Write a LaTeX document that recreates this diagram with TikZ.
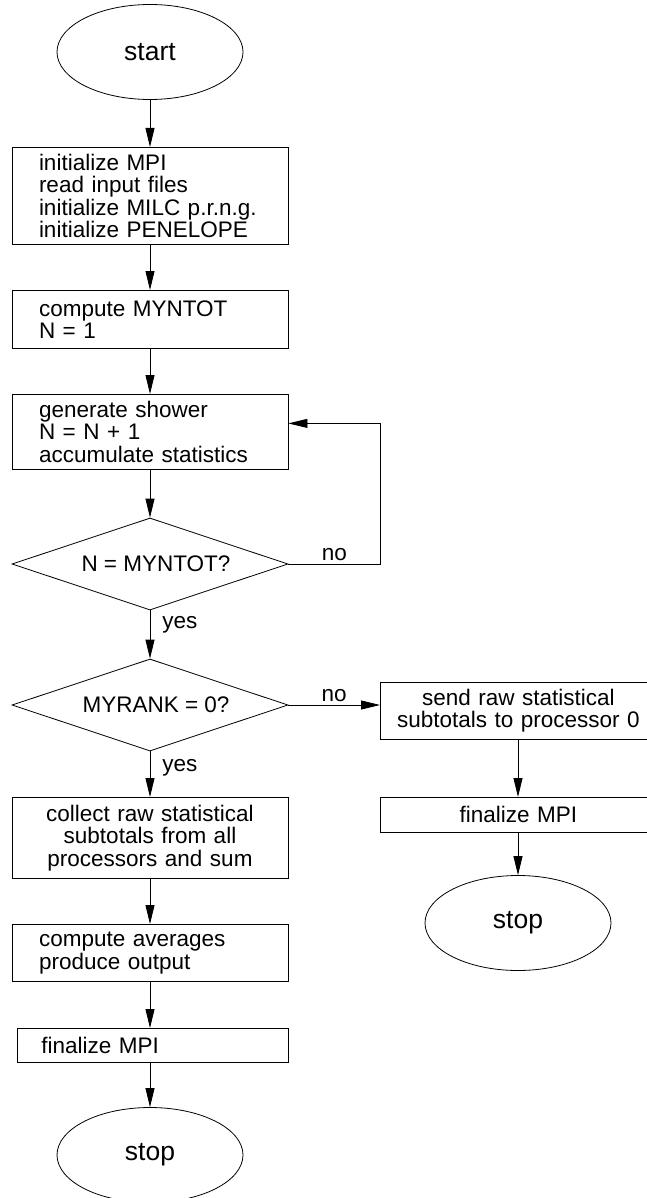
\documentclass[tikz,border=0pt]{standalone}
\usepackage{fontspec}
\setmainfont{Liberation Sans}
\usetikzlibrary{arrows.meta,shapes.geometric}

\begin{document}
\begin{tikzpicture}[->,>={Triangle[length=19pt,width=9pt]},x=1pt,y=-1pt,
  line width=0.8pt,
  term node/.style={ellipse,draw,minimum width=186pt,minimum height=95pt,
    inner sep=0pt,font=\fontsize{26.5}{28}\selectfont},
  task node/.style={rectangle,draw,text width=222pt,inner xsep=27pt,
    inner ysep=0pt,align=left,font=\fontsize{22.5}{22.5}\selectfont},
  test node/.style={diamond,draw,minimum width=276pt,minimum height=92pt,
    inner sep=0pt,shape aspect=3,font=\fontsize{22.5}{22.5}\selectfont},
  label node/.style={font=\fontsize{22.5}{22.5}\selectfont,inner sep=3pt}]

  \useasboundingbox (0,0) rectangle (647,1198);
  \clip (0,0) rectangle (647,1198);

  % main column
  \node[term node] (start) at (150,52) {start};
  \node[task node,anchor=north,minimum height=97pt] (init) at (150,147)
    {initialize MPI\\ read input files\\ initialize MILC p.r.n.g.\\ initialize PENELOPE};
  \node[task node,anchor=north,minimum height=58pt] (ntot) at (150,290)
    {compute MYNTOT\\ N = 1};
  \node[task node,anchor=north,minimum height=75pt] (shower) at (150,394)
    {generate shower\\ N = N + 1\\ accumulate statistics};
  \node[test node] (done) at (150,564) {\hspace*{12pt}N = MYNTOT?};
  \node[test node] (rank) at (150,705) {\hspace*{12pt}MYRANK = 0?};
  \node[task node,anchor=north,minimum height=81pt,align=center] (collect) at (150,797)
    {collect raw statistical\\ subtotals from all\\ processors and sum};
  \node[task node,anchor=north,minimum height=57pt] (output) at (150,924)
    {compute averages\\ produce output};
  \node[task node,anchor=north west,text width=223pt,inner xsep=24pt,
    minimum height=34pt] (finL) at (17,1028) {finalize MPI};
  \node[term node] (stopL) at (150,1155) {stop};

  % other ranks
  \node[task node,anchor=north west,text width=250pt,inner xsep=13pt,
    align=center,minimum height=57pt] (send) at (380,682)
    {send raw statistical\\ subtotals to processor 0};
  \node[task node,anchor=north west,text width=250pt,inner xsep=13pt,
    align=center,minimum height=35pt] (finR) at (380,797) {finalize MPI};
  \node[term node] (stopR) at (518,923) {stop};

  \path
    (start) edge (init)
    (init) edge (ntot)
    (ntot) edge (shower)
    (shower) edge (done)
    (done) edge node[label node,right=9pt,pos=0.3] {yes} (rank)
    (rank) edge node[label node,right=9pt,pos=0.35] {yes} (collect)
    (collect) edge (output)
    (output) edge (finL.north -| output.south)
    (finL.south -| stopL.north) edge (stopL)
    (rank.east) edge node[label node,above] {no} (rank.east -| send.west)
    (send.south -| stopR.north) edge (finR.north -| stopR.north)
    (finR.south -| stopR.north) edge (stopR);

  % loop back
  \draw (done.east) -- node[label node,above] {no} ++(92,0)
    |- ([yshift=8.5pt]shower.east);

\end{tikzpicture}
\end{document}
